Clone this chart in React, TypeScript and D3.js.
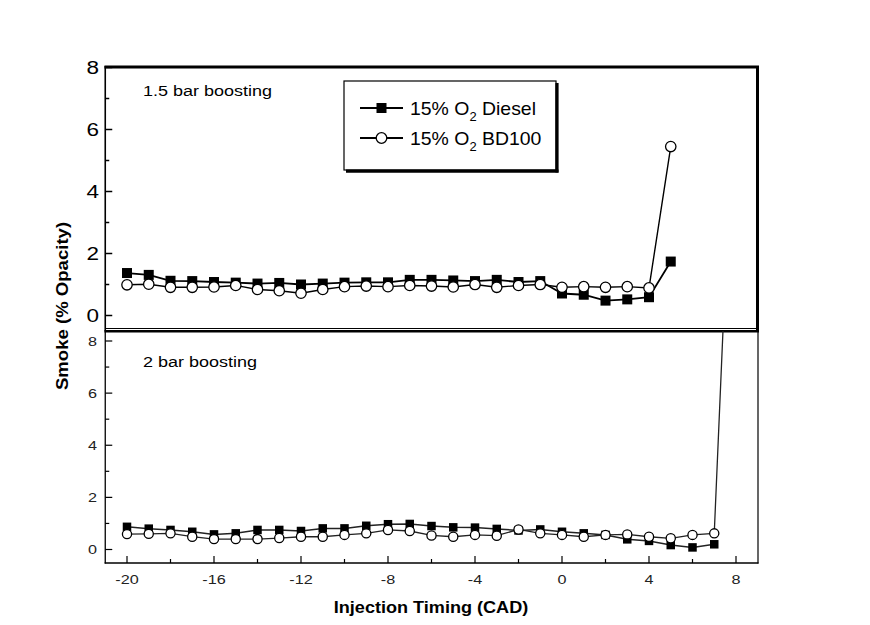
import React from "react";
import * as d3 from "d3";

const topTiming = [-20,-19,-18,-17,-16,-15,-14,-13,-12,-11,-10,-9,-8,-7,-6,-5,-4,-3,-2,-1,0,1,2,3,4,5];
const topDiesel = [1.37,1.31,1.12,1.11,1.08,1.06,1.03,1.05,1.0,1.03,1.06,1.07,1.07,1.15,1.15,1.13,1.11,1.15,1.08,1.11,0.71,0.67,0.48,0.52,0.59,1.74];
const topBD100 = [0.99,1.01,0.91,0.91,0.92,0.97,0.84,0.8,0.72,0.84,0.93,0.95,0.93,0.97,0.95,0.92,1.0,0.91,0.97,1.0,0.91,0.93,0.91,0.93,0.89,5.45];

const botTimingDiesel = [-20,-19,-18,-17,-16,-15,-14,-13,-12,-11,-10,-9,-8,-7,-6,-5,-4,-3,-2,-1,0,1,2,3,4,5,6,7];
const botDiesel = [0.87,0.8,0.75,0.68,0.58,0.62,0.75,0.75,0.71,0.81,0.81,0.91,0.97,0.98,0.9,0.85,0.84,0.79,0.73,0.77,0.68,0.62,0.56,0.39,0.33,0.17,0.08,0.2];
const botTimingBD100 = [-20,-19,-18,-17,-16,-15,-14,-13,-12,-11,-10,-9,-8,-7,-6,-5,-4,-3,-2,-1,0,1,2,3,4,5,6,7,8];
const botBD100 = [0.59,0.6,0.62,0.49,0.4,0.4,0.4,0.44,0.49,0.49,0.56,0.62,0.75,0.71,0.54,0.49,0.56,0.53,0.77,0.62,0.56,0.49,0.56,0.58,0.49,0.43,0.56,0.62,20];

const xMajorTicks = [-20,-16,-12,-8,-4,0,4,8];
const xMinorTicks = [-18,-14,-10,-6,-2,2,6];
const yMajorTicks = [0,2,4,6,8];
const yMinorTicks = [1,3,5,7];

const seriesNames = ["15% O", "15% O"];
const seriesSuffix = [" Diesel", " BD100"];
const panelTitles = ["1.5 bar boosting", "2 bar boosting"];
const xTitle = "Injection Timing (CAD)";
const yTitle = "Smoke (% Opacity)";

const FONT = "'Liberation Sans', Arial, sans-serif";

const x = d3.scaleLinear().domain([-21, 9]).range([105.25, 757.75]);
const yTop = d3.scaleLinear().domain([0, 8]).range([315.5, 67.5]);
const yBot = d3.scaleLinear().domain([0, 8]).range([549.5, 341]);

function T({ x, y, sx = 1, rot = 0, anchor = "start", size, weight = "normal", fill = "#000", children }: any) {
  return (
    <text
      transform={`translate(${x},${y}) rotate(${rot}) scale(${sx},1)`}
      textAnchor={anchor}
      fontFamily={FONT}
      fontSize={size}
      fontWeight={weight}
      fill={fill}
    >
      {children}
    </text>
  );
}

function Series({ xs, ys, yScale, kind, sq, r, sw, stroke }: any) {
  const pts: [number, number][] = xs.map((v: number, i: number) => [x(v), yScale(ys[i])]);
  const line = d3.line()(pts) || "";
  return (
    <g>
      <path d={line} fill="none" stroke={stroke} strokeWidth={sw} />
      {pts.map(([px, py], i) =>
        kind === "square" ? (
          <rect key={i} x={px - sq / 2} y={py - sq / 2} width={sq} height={sq} fill="#000" />
        ) : (
          <circle key={i} cx={px} cy={py} r={r} fill="#fff" stroke="#000" strokeWidth={1.3} />
        )
      )}
    </g>
  );
}

export default function App() {
  const left = 105.25;
  const right = 757.5;
  return (
    <svg
      width={870}
      height={625}
      style={{ position: "absolute", left: 0, top: 0, background: "#fff" }}
    >
      <rect x={0} y={0} width={870} height={625} fill="#fff" />
      <defs>
        <clipPath id="clipBot">
          <rect x={left} y={331} width={right - left} height={232} />
        </clipPath>
        <clipPath id="clipTop">
          <rect x={left} y={67} width={right - left} height={262} />
        </clipPath>
      </defs>

      {/* Top panel frame */}
      <line x1={left} y1={66} x2={left} y2={331} stroke="#000" strokeWidth={1.6} />
      <line x1={left - 0.8} y1={67} x2={right + 1.5} y2={67} stroke="#000" strokeWidth={3} />
      <line x1={right} y1={66} x2={right} y2={331} stroke="#000" strokeWidth={3} />
      <line x1={left} y1={328.5} x2={right} y2={328.5} stroke="#000" strokeWidth={1.2} />
      <line x1={left - 0.8} y1={331.2} x2={right + 1.5} y2={331.2} stroke="#000" strokeWidth={2.6} />

      {/* Top y ticks */}
      {yMajorTicks.map((t) => (
        <g key={"tm" + t}>
          <line x1={left} y1={yTop(t)} x2={left + 7} y2={yTop(t)} stroke="#000" strokeWidth={1.5} />
          <T x={99} y={yTop(t) + 6.5} anchor="end" size={18} sx={1.25}>{t}</T>
        </g>
      ))}
      {yMinorTicks.map((t) => (
        <line key={"tn" + t} x1={left} y1={yTop(t)} x2={left + 4} y2={yTop(t)} stroke="#000" strokeWidth={1.5} />
      ))}

      {/* Bottom panel frame */}
      <line x1={left} y1={331} x2={left} y2={563.5} stroke="#000" strokeWidth={1.3} />
      <line x1={right + 0.5} y1={331} x2={right + 0.5} y2={563.5} stroke="#000" strokeWidth={1.2} />
      <line x1={left - 0.6} y1={563} x2={right + 1} y2={563} stroke="#000" strokeWidth={1.3} />

      {yMajorTicks.map((t) => (
        <g key={"bm" + t}>
          <line x1={left} y1={yBot(t)} x2={left + 7} y2={yBot(t)} stroke="#000" strokeWidth={1.2} />
          <T x={97} y={yBot(t) + 4.8} anchor="end" size={13.5} sx={1.2} fill="#222">{t}</T>
        </g>
      ))}
      {yMinorTicks.map((t) => (
        <line key={"bn" + t} x1={left} y1={yBot(t)} x2={left + 4} y2={yBot(t)} stroke="#000" strokeWidth={1.2} />
      ))}
      {xMajorTicks.map((t) => (
        <g key={"xm" + t}>
          <line x1={x(t)} y1={563} x2={x(t)} y2={556} stroke="#000" strokeWidth={1.2} />
          <T x={x(t)} y={583.5} anchor="middle" size={13.5} sx={1.2} fill="#222">{t}</T>
        </g>
      ))}
      {xMinorTicks.map((t) => (
        <line key={"xn" + t} x1={x(t)} y1={563} x2={x(t)} y2={559} stroke="#000" strokeWidth={1.2} />
      ))}

      {/* Panel titles */}
      <T x={143} y={96} size={15} sx={1.2}>{panelTitles[0]}</T>
      <T x={143} y={367} size={15} sx={1.2}>{panelTitles[1]}</T>

      {/* Top data */}
      <g clipPath="url(#clipTop)">
        <Series xs={topTiming} ys={topDiesel} yScale={yTop} kind="square" sq={10} sw={1.8} stroke="#000" />
        <Series xs={topTiming} ys={topBD100} yScale={yTop} kind="circle" r={5.2} sw={1.4} stroke="#000" />
      </g>

      {/* Bottom data */}
      <g clipPath="url(#clipBot)">
        <Series xs={botTimingDiesel} ys={botDiesel} yScale={yBot} kind="square" sq={8.5} sw={1.5} stroke="#222" />
        <Series xs={botTimingBD100} ys={botBD100} yScale={yBot} kind="circle" r={4.6} sw={1.3} stroke="#222" />
      </g>

      {/* Legend */}
      <rect x={344} y={81} width={212} height={89} fill="#fff" stroke="#000" strokeWidth={1.2} />
      <line x1={557} y1={83} x2={557} y2={172.5} stroke="#000" strokeWidth={3.2} />
      <line x1={346} y1={171.2} x2={558.5} y2={171.2} stroke="#000" strokeWidth={3.2} />
      {[0, 1].map((i) => {
        const ly = i === 0 ? 108 : 138;
        return (
          <g key={"lg" + i}>
            <line x1={360} y1={ly} x2={403} y2={ly} stroke="#000" strokeWidth={2} />
            {i === 0 ? (
              <rect x={381.5 - 5} y={ly - 5} width={10} height={10} fill="#000" />
            ) : (
              <circle cx={381.5} cy={ly} r={5.3} fill="#fff" stroke="#000" strokeWidth={1.3} />
            )}
            <text transform={`translate(410,${ly + 6.5}) scale(1.08,1)`} fontFamily={FONT} fontSize={18} fill="#000">
              {seriesNames[i]}
              <tspan fontSize={12} dy={6}>2</tspan>
              <tspan dy={-6}>{seriesSuffix[i]}</tspan>
            </text>
          </g>
        );
      })}

      {/* Axis titles */}
      <T x={431} y={613} anchor="middle" size={16.3} weight="bold" sx={1.11}>{xTitle}</T>
      <T x={68} y={306} anchor="middle" size={16.3} weight="bold" sx={1.14} rot={-90}>{yTitle}</T>
    </svg>
  );
}
